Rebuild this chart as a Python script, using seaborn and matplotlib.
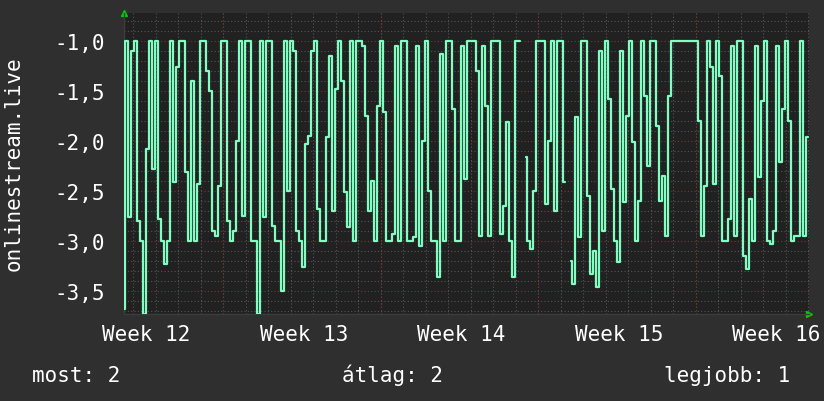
import numpy as np
import pandas as pd
import matplotlib
matplotlib.use('Agg')
import matplotlib.pyplot as plt
import seaborn as sns

# one reading every 3.2 hours, nan = missing data
step_hours = 3.2
values = [
    -3.68, -1.0, -2.76, -1.1, -1.0, -2.8, -3.0, -3.73, -2.08, -1.0, -2.28, -1.0, -2.78, -3.0, -3.23,
    -3.0, -1.0, -2.41, -1.26, -1.0, -1.0, -2.31, -3.0, -1.4, -3.0, -2.43, -1.0, -1.0, -1.3,
    -1.5, -2.9, -2.95, -2.45, -1.0, -1.0, -2.8, -3.0, -2.9, -2.0, -1.0, -2.75, -1.0, -1.0, -3.0,
    -3.0, -3.73, -1.0, -2.76, -1.0, -1.0, -2.85, -3.0, -3.0, -3.5, -1.0, -2.5, -1.0, -1.1,
    -2.9, -3.0, -3.26, -2.03, -1.95, -1.1, -1.0, -2.68, -3.0, -3.0, -1.96, -1.15, -2.7, -1.48, -1.0,
    -1.4, -2.51, -2.86, -1.0, -3.0, -1.0, -1.0, -1.05, -1.75, -2.7, -2.4, -3.0, -1.65, -1.0,
    -1.71, -3.0, -3.0, -2.93, -1.05, -3.0, -1.0, -1.0, -3.0, -3.0, -2.96, -1.05, -3.05, -2.0,
    -1.0, -2.5, -3.0, -3.0, -3.36, -1.13, -3.0, -1.0, -1.0, -1.68, -3.0, -3.0, -1.05, -2.38,
    -1.0, -1.0, -1.0, -1.3, -2.95, -1.05, -1.65, -2.95, -1.0, -1.0, -1.0, -2.93, -2.65, -1.81, -3.0,
    -3.36, -1.0, -1.0, np.nan, -2.16, -3.0, -3.08, -2.5, -1.0, -1.0, -1.0, -2.63, -2.0, -1.0,
    -2.7, -1.0, -1.0, -2.41, np.nan, -3.2, -3.43, -1.76, -2.96, -1.0, -1.0, -2.55, -3.33, -3.1, -3.46,
    -1.1, -2.9, -1.0, -1.58, -2.48, -3.0, -3.21, -1.1, -2.61, -1.75, -1.0, -2.01, -3.0, -2.6,
    -1.0, -1.55, -2.25, -1.0, -1.0, -1.85, -2.6, -2.35, -2.95, -1.55, -1.0,
    -1.0, -1.0, -1.0, -1.0, -1.0, -1.0, -1.0, -1.0,
    -1.8, -2.95, -2.45, -1.0, -1.26, -2.43, -1.0, -1.35, -3.0,
    -3.0, -2.78, -1.05, -2.95, -1.0, -1.0, -3.15, -3.28, -2.58, -3.0, -1.05, -2.36, -1.6, -1.0,
    -3.0, -3.03, -2.9, -1.05, -2.21, -1.68, -1.0, -1.8, -3.0, -2.95, -2.95, -1.0, -2.95, -1.96,
]
week_labels = ['Week 12', 'Week 13', 'Week 14', 'Week 15', 'Week 16']
week_label_hours = [24.2, 192.2, 360.2, 528.2, 696.2]
week_start_hours = [105.9, 273.9, 441.9, 609.9]
first_day_hour = 9.9
y_ticks = [-1.0, -1.5, -2.0, -2.5, -3.0, -3.5]
y_label = 'onlinestream.live'
stats = ['most: 2', 'átlag: 2', 'legjobb: 1']

df = pd.DataFrame({'hour': np.arange(len(values)) * step_hours, 'value': values})
df['seg'] = df['value'].isna().cumsum()
df = df.dropna()

sns.set_theme(style='dark')
plt.rcParams['font.family'] = ['DejaVu Sans Mono']

fig = plt.figure(figsize=(8.24, 4.02), dpi=100, facecolor='#2f2f2f')
ax = fig.add_axes([124 / 824, 87 / 402, 685 / 824, 301 / 402])
ax.set_facecolor('#212121')

sns.lineplot(data=df, x='hour', y='value', units='seg', estimator=None,
             color='#80ffc0', linewidth=1.6, drawstyle='steps-mid', ax=ax, zorder=5)

ax.set_xlim(0, 730.7)
ax.set_ylim(-3.727, -0.717)

# grid: gray dotted every day / 0.1, red dotted every week / 0.5
ax.set_xticks(week_label_hours)
ax.set_xticklabels(week_labels)
ax.set_xticks(np.arange(first_day_hour, 730, 24), minor=True)
ax.set_yticks(y_ticks)
ax.set_yticklabels([f'{t:.1f}'.replace('.', ',') for t in y_ticks])
ax.set_yticks(np.arange(-3.7, -0.75, 0.1), minor=True)
ax.grid(False)
ax.grid(which='minor', color='#555555', linestyle=(0, (1, 2)), linewidth=0.8)
ax.grid(which='major', axis='y', color='#7a3535', linestyle=(0, (1, 2)), linewidth=0.8)
for h in week_start_hours:
    ax.axvline(h, color='#7a3535', linestyle=(0, (1, 2)), linewidth=0.8, zorder=1)

ax.tick_params(axis='x', which='major', length=0, pad=7, labelsize=15, colors='white')
ax.tick_params(axis='y', which='major', length=0, pad=14, labelsize=15, colors='white')
ax.tick_params(which='minor', length=3, color='#555555', direction='out')
ax.set_xlabel('')
ax.set_ylabel('')
for side in ['top', 'right']:
    ax.spines[side].set_visible(False)
for side in ['left', 'bottom']:
    ax.spines[side].set_color('#3c3c3c')
    ax.spines[side].set_linewidth(1)

# rrdtool style axis arrows
ax.plot([0], [1.0], marker='^', color='#00cc00', markersize=5, transform=ax.transAxes, clip_on=False)
ax.plot([1.0], [0], marker='>', color='#00cc00', markersize=5, transform=ax.transAxes, clip_on=False)

fig.text(14 / 824, 0.5 + (402 / 2 - 164) / 402, y_label, rotation=90, ha='center', va='center',
         color='white', fontsize=15)
fig.text(32 / 824, 20 / 402, stats[0], ha='left', va='baseline', color='white', fontsize=15)
fig.text(392 / 824, 20 / 402, stats[1], ha='center', va='baseline', color='white', fontsize=15)
fig.text(790 / 824, 20 / 402, stats[2], ha='right', va='baseline', color='white', fontsize=15)

fig.savefig('out.png', dpi=100, facecolor=fig.get_facecolor())
